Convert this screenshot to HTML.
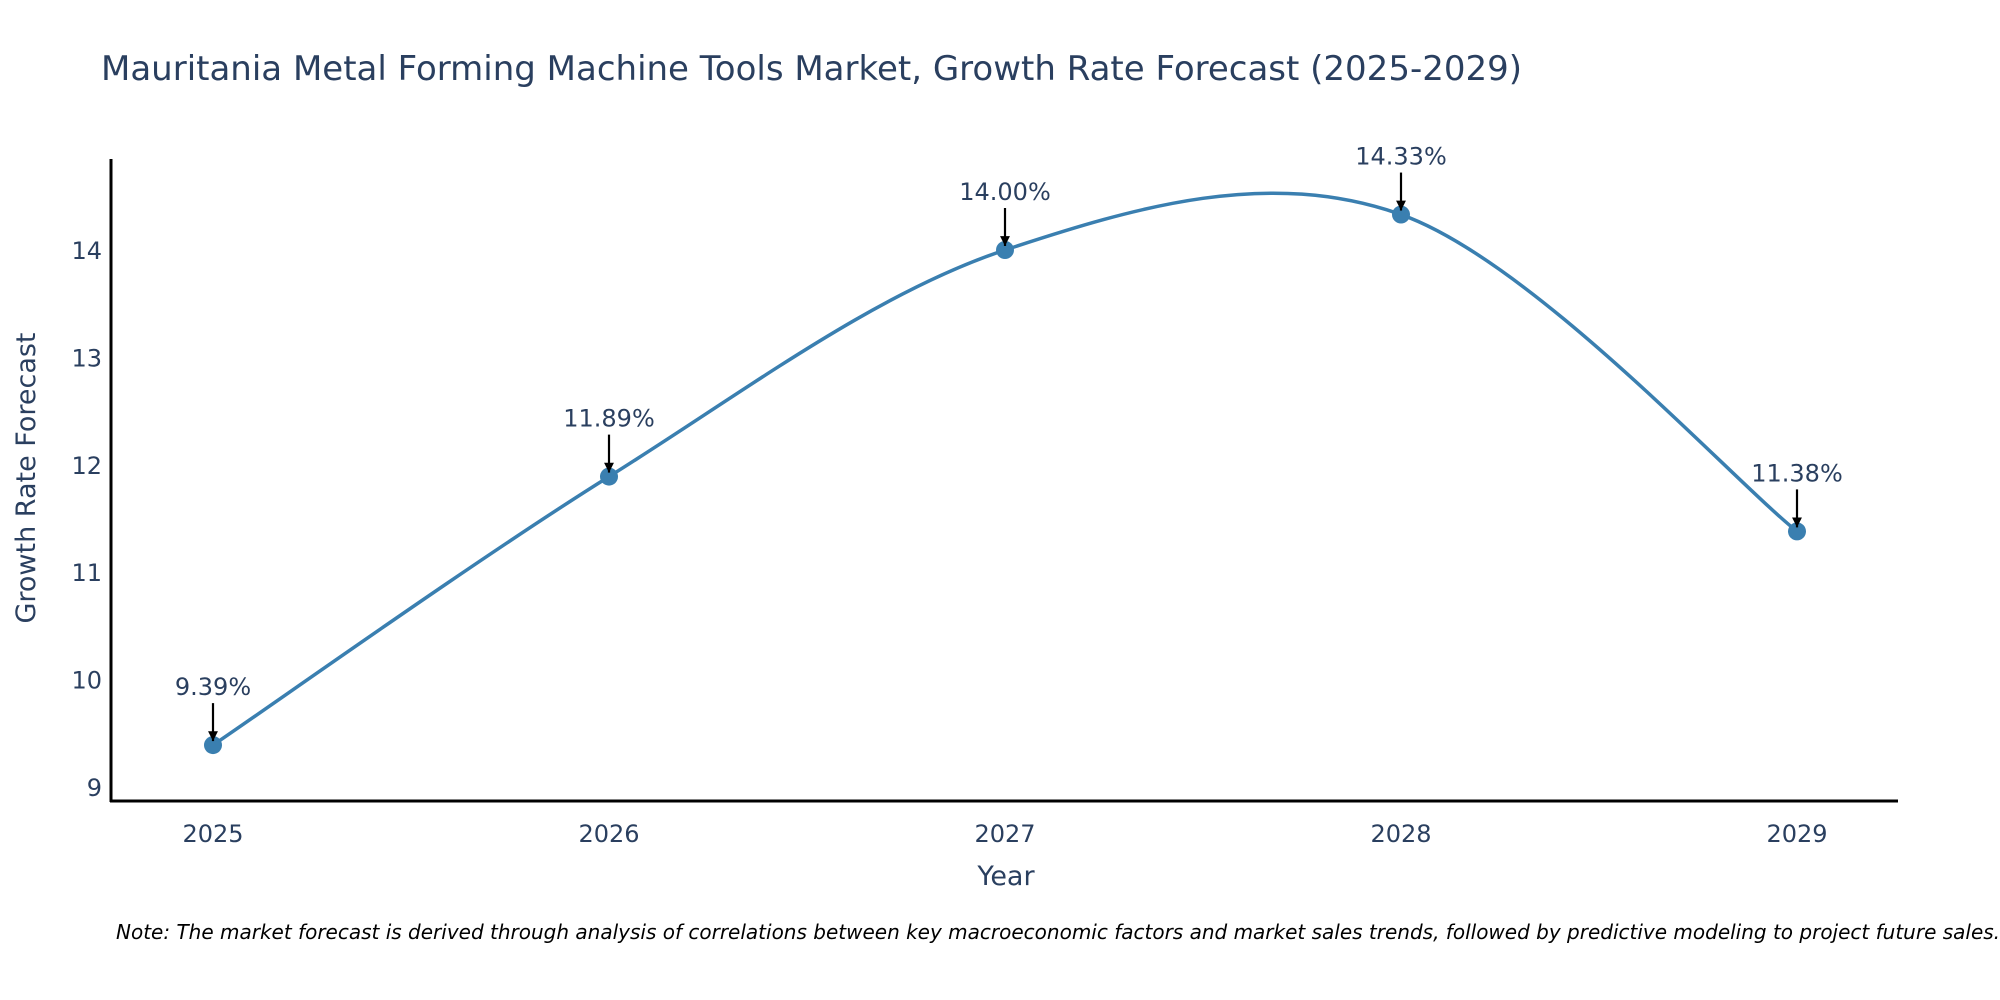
<!DOCTYPE html>
<html><head><meta charset="utf-8"><style>
body{margin:0;background:#fff;}
svg{display:block;font-family:"DejaVu Sans","Liberation Sans",sans-serif;}
</style></head><body>
<svg id="chart" width="2000" height="1000" viewBox="0 0 2000 1000" xmlns="http://www.w3.org/2000/svg">
<defs><marker id="ah" viewBox="0 0 10 10" refX="10" refY="5" markerWidth="4.5" markerHeight="4.5" orient="auto"><path d="M0,0 L10,5 L0,10 z" fill="#000"/></marker></defs>
<text x="101" y="80" font-size="34" fill="#2a3f5f">Mauritania Metal Forming Machine Tools Market, Growth Rate Forecast (2025-2029)</text>
<g id="plot"></g>
<line x1="111" y1="159" x2="111" y2="802" stroke="#000" stroke-width="3"/>
<line x1="110" y1="801" x2="1898" y2="801" stroke="#000" stroke-width="3"/>
<text transform="translate(35,478) rotate(-90)" text-anchor="middle" font-size="27" fill="#2a3f5f">Growth Rate Forecast</text>
<text x="1006" y="885" text-anchor="middle" font-size="27" fill="#2a3f5f">Year</text>
<text x="116" y="939" font-size="20" font-style="italic" fill="#000">Note: The market forecast is derived through analysis of correlations between key macroeconomic factors and market sales trends, followed by predictive modeling to project future sales.</text>
</svg>
<script>
const years = [2025, 2026, 2027, 2028, 2029];
const growth = [9.39, 11.89, 14.00, 14.33, 11.38];
const yTicks = [9, 10, 11, 12, 13, 14];
const labels = ["9.39%", "11.89%", "14.00%", "14.33%", "11.38%"];

const NS = "http://www.w3.org/2000/svg";
const X0 = 213, X1 = 1797;
function xs(v){ return X0 + (v - years[0]) * (X1 - X0) / (years[years.length-1] - years[0]); }
function ys(v){ return 787 - (v - 9) * 107.4; }
const g = document.getElementById('plot');
function mk(tag, attrs){ const e = document.createElementNS(NS, tag); for (const k in attrs) e.setAttribute(k, attrs[k]); g.appendChild(e); return e; }

yTicks.forEach(t => {
  const e = mk('text', {x: 102, y: ys(t) + 9, 'text-anchor': 'end', 'font-size': 24, fill: '#2a3f5f'});
  
  
  e.textContent = t;
});
years.forEach(yr => {
  const e = mk('text', {x: xs(yr), y: 842, 'text-anchor': 'middle', 'font-size': 24, fill: '#2a3f5f'});
  
  
  e.textContent = yr;
});

const pts = years.map((yr, i) => [xs(yr), ys(growth[i])]);
let d = 'M' + pts[0][0] + ',' + pts[0][1];
for (let i = 0; i < pts.length - 1; i++) {
  const p0 = pts[Math.max(0, i-1)], p1 = pts[i], p2 = pts[i+1], p3 = pts[Math.min(pts.length-1, i+2)];
  const c1 = [p1[0] + (p2[0]-p0[0])/6, p1[1] + (p2[1]-p0[1])/6];
  const c2 = [p2[0] - (p3[0]-p1[0])/6, p2[1] - (p3[1]-p1[1])/6];
  d += ' C' + c1 + ' ' + c2 + ' ' + p2;
}
const line = mk('path', {d: d, fill: 'none', stroke: '#3a7fb0', 'stroke-width': 3.5});



pts.forEach((p, i) => {
  const c = mk('circle', {cx: p[0], cy: p[1], r: 9, fill: '#3a7fb0'});
  
  
  const a = mk('line', {x1: p[0], y1: p[1] - 42, x2: p[0], y2: p[1] - 4, stroke: '#000', 'stroke-width': 2.2, 'marker-end': 'url(#ah)'});
  
  
  const t = mk('text', {x: p[0], y: p[1] - 50, 'text-anchor': 'middle', 'font-size': 24, fill: '#2a3f5f'});
  
  
  t.textContent = labels[i];
});
</script>
</body></html>
